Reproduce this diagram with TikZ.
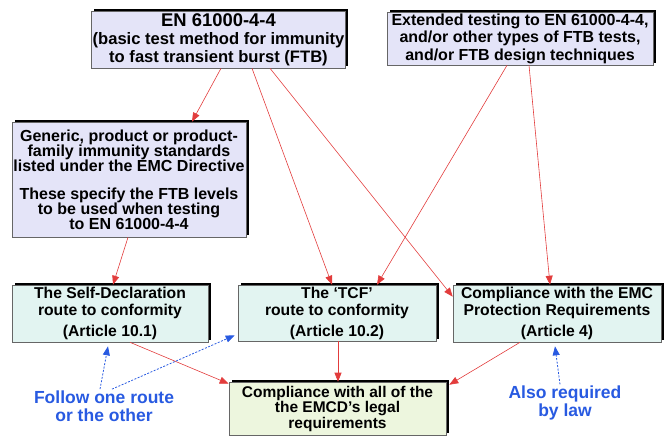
\documentclass[tikz,border=0pt]{standalone}
\usepackage{fontspec}
\setmainfont{Liberation Sans}
\usetikzlibrary{arrows.meta, shadows}
\definecolor{stdfill}{RGB}{228,228,248}
\definecolor{routefill}{RGB}{226,244,241}
\definecolor{goalfill}{RGB}{237,246,222}
\definecolor{linkred}{RGB}{226,60,60}
\definecolor{noteblue}{RGB}{40,90,225}
\tikzset{
   framebox/.style={
     draw=gray!80!black, line width=0.6pt, align=center, inner sep=1pt,
     font=\bfseries\fontsize{15.7}{17}\selectfont,
     drop shadow={shadow xshift=2.5pt, shadow yshift=2.5pt, fill=black, opacity=1}
   },
   standardbox/.style={
      framebox,
      fill=stdfill,
   },
   routebox/.style={
      framebox,
      fill=routefill,
   },
   goalbox/.style={
      framebox,
      fill=goalfill,
   },
   noteline/.style={text=noteblue, align=center, inner sep=1pt,
      font=\bfseries\fontsize{17.5}{18.5}\selectfont},
   redlink/.style={-{Triangle[length=9pt,width=7pt]}, draw=linkred, line width=0.6pt},
   bluelink/.style={-{Triangle[length=9pt,width=7pt]}, draw=noteblue, line width=0.8pt,
      dash pattern=on 2pt off 1.5pt}
}

\begin{document}
\begin{tikzpicture}[x=1pt, y=-1pt]
            \useasboundingbox (0,0) rectangle (666,437);
            \node[standardbox, minimum width=251pt, minimum height=57pt, font=\bfseries\fontsize{16.6}{18}\selectfont](en) at (218.5,39.5)
               {{\fontsize{18.4}{18}\selectfont EN 61000-4-4}\\(basic test method for immunity\\to fast transient burst (FTB)};
            \node[standardbox, minimum width=266pt, minimum height=53pt, font=\bfseries\fontsize{16}{17.5}\selectfont](ext) at (520,38.5)
               {Extended testing to EN 61000-4-4,\\and/or other types of FTB tests,\\and/or FTB design techniques};
            \node[standardbox, minimum width=234pt, minimum height=115pt, font=\bfseries\fontsize{16}{15}\selectfont](generic) at (129,179.5)
               {Generic, product or product-\\family immunity standards\\listed under the EMC Directive\\[13pt]These specify the FTB levels\\to be used when testing\\to EN 61000-4-4};
            \node[routebox, minimum width=196pt, minimum height=57pt](selfdecl) at (110,313.5)
               {The Self-Declaration\\route to conformity\\[4pt](Article 10.1)};
            \node[routebox, minimum width=198pt, minimum height=56pt](tcf) at (337,313)
               {The ‘TCF’\\route to conformity\\[4pt](Article 10.2)};
            \node[routebox, minimum width=208pt, minimum height=57pt](emc) at (557,313.5)
               {Compliance with the EMC\\Protection Requirements\\[4pt](Article 4)};
            \node[goalbox, minimum width=217pt, minimum height=53pt, font=\bfseries\fontsize{15.5}{15.5}\selectfont](legal) at (337.5,408.5)
               {Compliance with all of the\\the EMCD’s legal\\requirements};
            \node[noteline](oneroute) at (104,406) {Follow one route\\or the other};
            \node[noteline](bylaw) at (565,403) {Also required\\by law};

            \draw[redlink] ([xshift=2.5pt]en.south) -- ([xshift=63pt]generic.north);
            \draw[redlink] ([xshift=33.5pt]en.south) -- ([xshift=-5pt]tcf.north);
            \draw[redlink] ([xshift=51.5pt]en.south) -- ([yshift=-12pt]emc.north west);
            \draw[redlink] ([xshift=-13pt]ext.south) -- ([xshift=40pt]tcf.north);
            \draw[redlink] ([xshift=9pt]ext.south) -- ([xshift=-7pt]emc.north);
            \draw[redlink] ([xshift=-1pt]generic.south) -- ([xshift=3pt]selfdecl.north);
            \draw[redlink] ([xshift=20pt]selfdecl.south) -- ([yshift=-2pt]legal.north west);
            \draw[redlink] ([xshift=1pt]tcf.south) -- ([xshift=0.5pt]legal.north);
            \draw[redlink] ([xshift=-37pt]emc.south) -- ([xshift=3pt,yshift=-3pt]legal.north east);

            \draw[bluelink] ([xshift=-4pt]oneroute.north) -- ([xshift=-2pt,yshift=-4pt]selfdecl.south);
            \draw[bluelink] ([xshift=8pt]oneroute.north) -- ([xshift=-3pt,yshift=6pt]tcf.south west);
            \draw[bluelink] ([xshift=-5pt]bylaw.north) -- ([xshift=-2pt,yshift=-4pt]emc.south);
         \end{tikzpicture}
\end{document}
